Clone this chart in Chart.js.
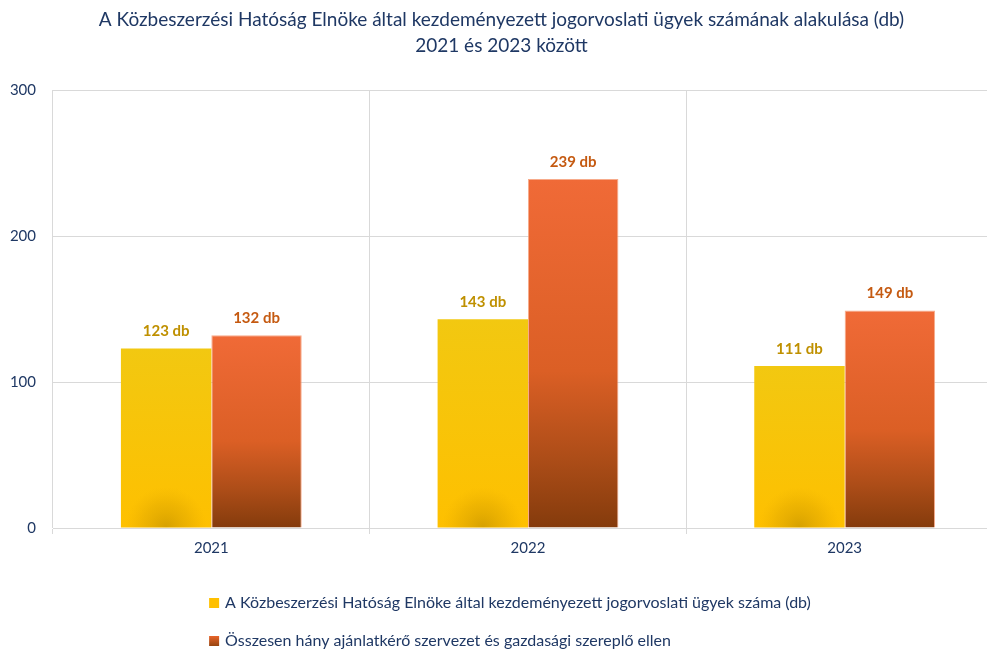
<!DOCTYPE html>
<html>
<head>
<meta charset="utf-8">
<script src="https://cdn.jsdelivr.net/npm/chart.js@4"></script>
<style>
  html, body { margin: 0; padding: 0; background: #fff; overflow: hidden; }
  #wrap { position: relative; width: 1020px; height: 652px; }
</style>
</head>
<body>
<div id="wrap"><canvas id="chart"></canvas></div>
<script>
const years = ['2021', '2022', '2023'];
const kezdemenyezett = [123, 143, 111];
const osszesen = [132, 239, 149];
const yTicks = [0, 100, 200, 300];
const seriesNames = [
    'A Közbeszerzési Hatóság Elnöke által kezdeményezett jogorvoslati ügyek száma (db)',
    'Összesen hány ajánlatkérő szervezet és gazdasági szereplő ellen'
];

const NAVY = '#1F3864';
const FONT = 'Lato, "Open Sans", sans-serif';

function barGradient(context, stops, fallback) {
    const chart = context.chart;
    const y = chart.scales.y;
    if (!chart.chartArea || !y || context.parsed == null) return fallback;
    const top = y.getPixelForValue(context.parsed.y);
    const bottom = y.getPixelForValue(0);
    if (!isFinite(top) || !isFinite(bottom) || top === bottom) return fallback;
    const g = chart.ctx.createLinearGradient(0, top, 0, bottom);
    stops.forEach(s => g.addColorStop(s[0], s[1]));
    return g;
}

const yellowStops = [[0, '#F2C811'], [1, '#FEC000']];
const orangeStops = [[0, '#F06A37'], [0.55, '#DB5F25'], [0.8, '#AD4D18'], [1, '#843B0C']];

// dark glow at the bottom of the yellow bars + value labels
const decorations = {
    id: 'decorations',
    afterDatasetsDraw(chart) {
        const ctx = chart.ctx;
        const yellow = chart.getDatasetMeta(0);
        yellow.data.forEach(el => {
            const left = el.x - el.width / 2;
            ctx.save();
            ctx.beginPath();
            ctx.rect(left, el.y, el.width, el.base - el.y);
            ctx.clip();
            const r = el.width * 0.45;
            const g = ctx.createRadialGradient(el.x, el.base, 0, el.x, el.base, r);
            g.addColorStop(0, 'rgba(200,150,0,0.75)');
            g.addColorStop(0.6, 'rgba(215,160,0,0.35)');
            g.addColorStop(1, 'rgba(230,170,0,0)');
            ctx.fillStyle = g;
            ctx.fillRect(el.x - r, el.base - r, r * 2, r);
            ctx.restore();
        });

        const labelColors = ['#BF9000', '#C55A11'];
        chart.data.datasets.forEach((ds, i) => {
            const meta = chart.getDatasetMeta(i);
            ctx.save();
            ctx.font = 'bold 15px ' + FONT;
            ctx.fillStyle = labelColors[i];
            ctx.textAlign = 'center';
            ctx.textBaseline = 'middle';
            meta.data.forEach((el, j) => {
                ctx.fillText(ds.data[j] + ' db', el.x, el.y - 17);
            });
            ctx.restore();
        });
    }
};

// stacked legend under the axis
const stackedLegend = {
    id: 'stackedLegend',
    afterDraw(chart) {
        const ctx = chart.ctx;
        ctx.save();
        ctx.font = '16px ' + FONT;
        const widths = seriesNames.map(t => ctx.measureText(t).width);
        const rowW = 16 + Math.max(...widths);
        const startX = chart.width / 2 - rowW / 2;
        const rows = [603, 641];
        seriesNames.forEach((name, i) => {
            const cy = rows[i];
            let fill;
            if (i === 0) {
                fill = '#FFC000';
            } else {
                fill = ctx.createLinearGradient(0, cy - 5, 0, cy + 5);
                fill.addColorStop(0, '#E8642A');
                fill.addColorStop(1, '#96440F');
            }
            ctx.fillStyle = fill;
            ctx.fillRect(startX, cy - 5, 10, 10);
            ctx.fillStyle = NAVY;
            ctx.textAlign = 'left';
            ctx.textBaseline = 'middle';
            ctx.fillText(name, startX + 16, cy);
        });
        ctx.restore();
    }
};

new Chart(document.getElementById('chart'), {
    type: 'bar',
    data: {
        labels: years,
        datasets: [{
            label: seriesNames[0],
            data: kezdemenyezett,
            backgroundColor: c => barGradient(c, yellowStops, '#FFC000'),
            borderWidth: 0
        }, {
            label: seriesNames[1],
            data: osszesen,
            backgroundColor: c => barGradient(c, orangeStops, '#E0602A'),
            borderColor: 'rgba(245,150,110,0.8)',
            borderWidth: 1
        }]
    },
    options: {
        responsive: true,
        maintainAspectRatio: false,
        animation: false,
        categoryPercentage: 0.571,
        barPercentage: 1,
        layout: { padding: { left: 0, right: 17, top: 0, bottom: 0 } },
        plugins: {
            legend: { display: false },
            tooltip: { enabled: false },
            title: {
                display: true,
                text: [
                    'A Közbeszerzési Hatóság Elnöke által kezdeményezett jogorvoslati ügyek számának alakulása (db)',
                    '2021 és 2023 között'
                ],
                color: NAVY,
                font: { family: FONT, size: 19, weight: 'normal', lineHeight: 1.37 },
                padding: { top: 7, bottom: 31 }
            }
        },
        scales: {
            x: {
                grid: { color: '#D9D9D9', tickLength: 6, offset: true },
                border: { color: '#D9D9D9' },
                ticks: { color: NAVY, font: { family: FONT, size: 15 }, padding: 5 },
                afterFit(scale) { scale.height = 124; }
            },
            y: {
                min: 0,
                max: 300,
                afterBuildTicks(scale) { scale.ticks = yTicks.map(v => ({ value: v })); },
                grid: { color: '#D9D9D9', drawTicks: false },
                border: { display: false },
                ticks: { color: NAVY, font: { family: FONT, size: 15 }, padding: 17 },
                afterFit(scale) { scale.width = 53; }
            }
        }
    },
    plugins: [decorations, stackedLegend]
});
</script>
</body>
</html>
